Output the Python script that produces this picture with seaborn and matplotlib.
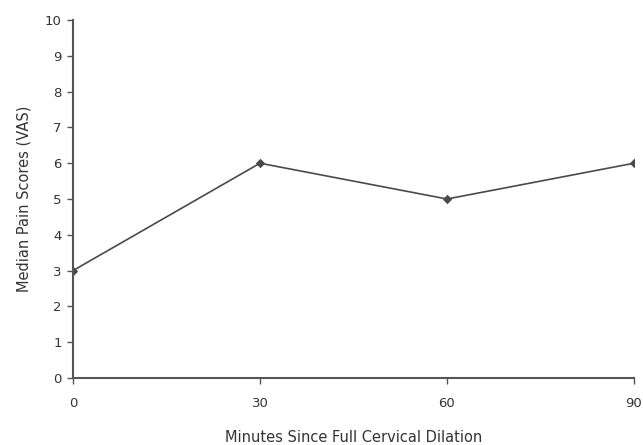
import matplotlib
matplotlib.use("Agg")
import matplotlib.pyplot as plt
import seaborn as sns
import pandas as pd

minutes = [0, 30, 60, 90]
median_pain = [3, 6, 5, 6]

df = pd.DataFrame({"Minutes": minutes, "Pain": median_pain})

sns.set_style("white")
plt.rcParams['font.family'] = ['DejaVu Sans']

fig = plt.figure(figsize=(6.43, 4.45), dpi=100)
ax = fig.add_axes([0.1135, 0.1506, 0.8725, 0.8044])

sns.lineplot(x="Minutes", y="Pain", data=df, ax=ax, color="#4a4a4a",
             marker="D", markersize=4.5, markeredgecolor="#4a4a4a", linewidth=1.2)

ax.set_xlim(0, 90)
ax.set_ylim(0, 10)
ax.set_xticks(minutes)
ax.set_yticks(range(0, 11))
sns.despine(ax=ax)
for s in ["left", "bottom"]:
    ax.spines[s].set_color("#555555")
    ax.spines[s].set_linewidth(1.5)
ax.tick_params(axis="both", direction="out", length=4, width=1, color="#555555",
               labelsize=9.5, labelcolor="#333333", left=True, bottom=True)
ax.tick_params(axis="x", pad=10)
ax.tick_params(axis="y", pad=4)

ax.set_xlabel("Minutes Since Full Cervical Dilation", fontsize=10.5, color="#333333", labelpad=14)
ax.set_ylabel("Median Pain Scores (VAS)", fontsize=10.5, color="#333333", labelpad=10)

fig.savefig("out.png", dpi=100)
